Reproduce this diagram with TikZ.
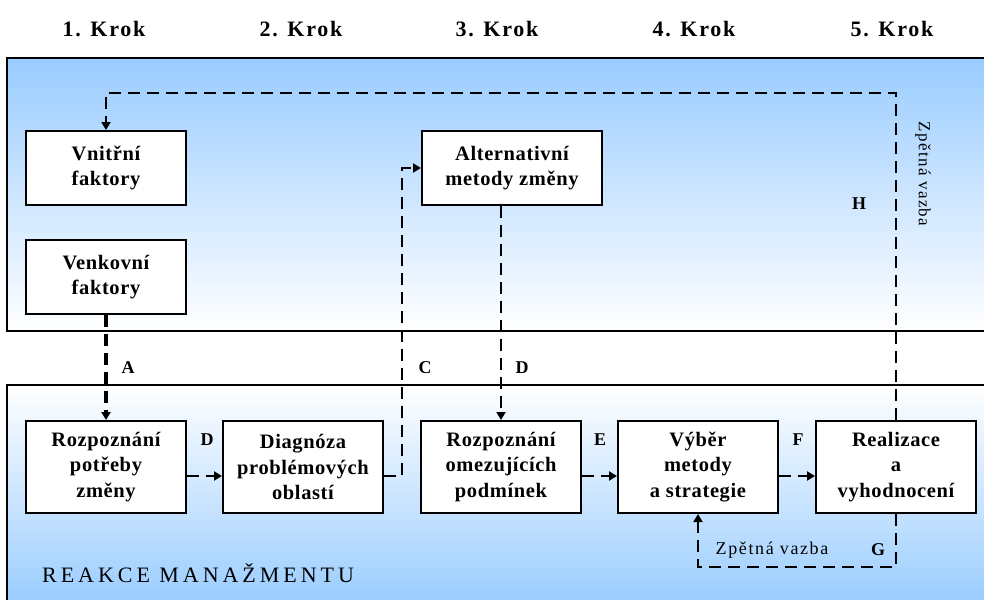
\documentclass[tikz,border=0pt]{standalone}
\usepackage{fontspec}
\setmainfont{Liberation Serif}
\newfontfamily\bxfont[LetterSpace=3]{Liberation Serif}
\newfontfamily\hdfont[LetterSpace=8]{Liberation Serif}
\newfontfamily\rkfont[LetterSpace=18]{Liberation Serif}
\newfontfamily\zvfont[LetterSpace=9]{Liberation Serif}
\newfontfamily\zwfont[LetterSpace=8]{Liberation Serif}
\usetikzlibrary{arrows.meta,shadows}
\definecolor{skyb}{RGB}{153,204,255}
\tikzset{
  box/.style={draw=black, line width=2pt, fill=white, minimum width=160pt, minimum height=74pt,
    inner sep=0pt, align=center, font=\bxfont\bfseries\fontsize{20.5}{25.5}\selectfont,
    drop shadow={shadow xshift=1.3pt, shadow yshift=-1.3pt, fill=black, opacity=1}},
  lowbox/.style={box, minimum height=92pt},
  conn/.style={draw=black, line width=2.4pt, dash pattern=on 12pt off 7pt},
  tip/.style={-{Triangle[length=8pt,width=9pt]}},
  hdr/.style={font=\hdfont\bfseries\fontsize{22}{24}\selectfont, inner sep=0pt},
  lab/.style={font=\bfseries\fontsize{18}{20}\selectfont, inner sep=0pt},
  panelline/.style={draw=black, line width=2.5pt}
}
\begin{document}
\begin{tikzpicture}[x=1pt,y=-1pt]
\useasboundingbox (0,0) rectangle (984,599);
\clip (0,0) rectangle (984,599);
\fill[white] (0,0) rectangle (984,599);
% panels
\shade[top color=skyb, bottom color=white] (7,58) rectangle (995,331);
\draw[panelline] (995,58) -- (7,58) -- (7,331) -- (995,331);
\shade[top color=white, bottom color=skyb] (7,385) rectangle (995,605);
\draw[panelline] (7,605) -- (7,385) -- (995,385);
% headers
\node[hdr] (k1) at (104,29) {1. Krok};
\node[hdr] (k2) at (301,29) {2. Krok};
\node[hdr] (k3) at (497,29) {3. Krok};
\node[hdr] (k4) at (694,29) {4. Krok};
\node[hdr] (k5) at (892,29) {5. Krok};
% boxes
\node[box] (vnitr) at (106,168) {Vnitřní\\faktory};
\node[box] (venk) at (106,277) {Venkovní\\faktory};
\node[box, minimum width=180pt] (alt) at (512,168) {Alternativní\\metody změny};
\node[lowbox] (b1) at (106,467) {Rozpoznání\\potřeby\\změny};
\node[lowbox] (b2) at (303,467) {Diagnóza\\problémových\\oblastí};
\node[lowbox] (b3) at (501,467) {Rozpoznání\\omezujících\\podmínek};
\node[lowbox] (b4) at (698,467) {Výběr\\metody\\a strategie};
\node[lowbox] (b5) at (896,467) {Realizace\\a\\vyhodnocení};
% helper coordinates
\coordinate (htop) at (896,93);
\coordinate (cR) at (402,476);
\coordinate (gB) at (0,567);
% connectors
\draw[conn, tip] (b5.north) -- (b5.north |- htop) -| (vnitr.north);
\draw[conn, tip, line width=3.2pt] (venk.south) -- (b1.north);
\draw[conn, tip] (b2.east |- cR) -- (cR) |- (alt.west);
\draw[conn, tip] (b3.north |- alt.south) -- (b3.north);
\draw[conn, tip] (b1.east |- cR) -- (b2.west |- cR);
\draw[conn, tip] (b3.east |- cR) -- (b4.west |- cR);
\draw[conn, tip] (b4.east |- cR) -- (b5.west |- cR);
\draw[conn, tip] (b5.south) -- (b5.south |- gB) -| (b4.south);
% labels
\node[lab] (la) at (128,368) {A};
\node[lab] (lc) at (425,368) {C};
\node[lab] (ld1) at (522,368) {D};
\node[lab] (ld2) at (207,440) {D};
\node[lab] (le) at (600,440) {E};
\node[lab] (lf) at (798,440) {F};
\node[lab] (lh) at (859,204) {H};
\node[lab] (lg) at (878,550) {G};
\node[font=\zvfont\fontsize{18}{20}\selectfont, inner sep=0pt] (zv1) at (772,550) {Zpětná vazba};
\node[font=\zwfont\fontsize{17}{19}\selectfont, inner sep=0pt, rotate=-90] (zv2) at (923,174) {Zpětná vazba};
\node[font=\rkfont\fontsize{22}{24}\selectfont, inner sep=0pt, anchor=west] (rm) at (42,573) {REAKCE MANAŽMENTU};
\end{tikzpicture}
\end{document}
